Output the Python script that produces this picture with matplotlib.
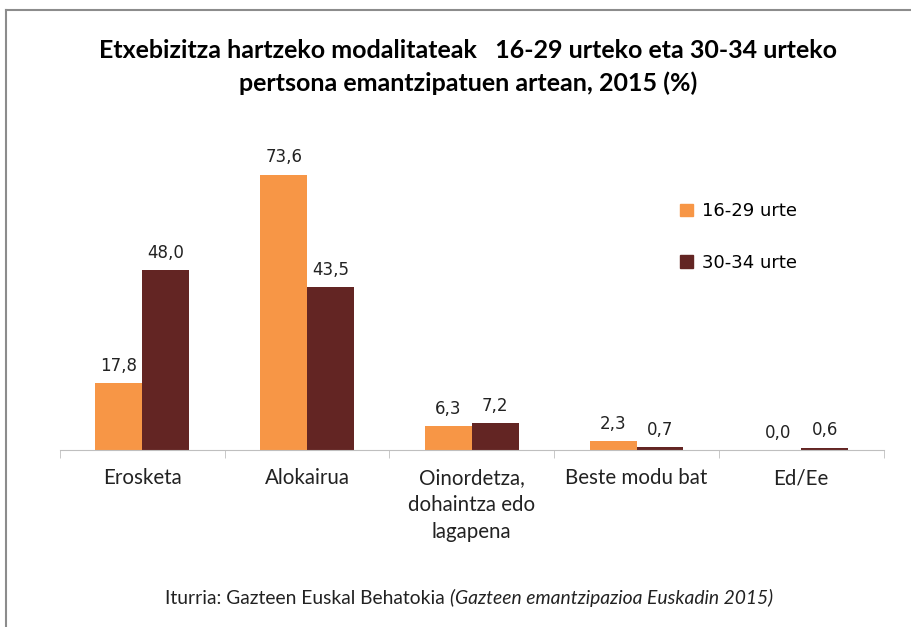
import matplotlib.pyplot as plt
import numpy as np
from matplotlib.lines import Line2D
from matplotlib.patches import Patch

# Datuak
kategoriak = ['Erosketa', 'Alokairua', 'Oinordetza,\ndohaintza edo\nlagapena',
              'Beste modu bat', 'Ed/Ee']
urte_16_29 = [17.8, 73.6, 6.3, 2.3, 0.0]
urte_30_34 = [48.0, 43.5, 7.2, 0.7, 0.6]
serieak = ['16-29 urte', '30-34 urte']

laranja = '#F79646'
granatea = '#632523'
narrow = ['Lato', 'DejaVu Sans']

fig = plt.figure(figsize=(9.11, 6.27), dpi=100)
ax = fig.add_axes([0.0659, 0.2823, 0.904, 0.4772])

x = np.arange(len(kategoriak))
w = 0.285
b1 = ax.bar(x - w / 2, urte_16_29, w, color=laranja)
b2 = ax.bar(x + w / 2, urte_30_34, w, color=granatea)

for bars, vals in [(b1, urte_16_29), (b2, urte_30_34)]:
    for bar, v in zip(bars, vals):
        ax.annotate(f'{v:.1f}'.replace('.', ','),
                    (bar.get_x() + bar.get_width() / 2, bar.get_height()),
                    xytext=(0, 6), textcoords='offset points',
                    ha='center', va='bottom', fontsize=12, color='#222222')

ax.set_xlim(-0.5, len(kategoriak) - 0.5)
ax.set_ylim(0, 80)
for s in ['top', 'right', 'left']:
    ax.spines[s].set_visible(False)
ax.spines['bottom'].set_color('#bfbfbf')
ax.set_yticks([])
ax.set_xticks(x)
ax.set_xticklabels(kategoriak, fontsize=14.8, family=narrow, linespacing=1.45,
                   color='#222222', va='top')
ax.tick_params(axis='x', which='major', length=0, pad=13)
ax.set_xticks(np.arange(-0.5, len(kategoriak)), minor=True)
ax.tick_params(axis='x', which='minor', length=6, color='#bfbfbf')

handles = [Patch(color=laranja), Patch(color=granatea)]
fig.legend(handles, serieak, loc='upper left', bbox_to_anchor=(0.729, 0.703),
           frameon=False, fontsize=13, handlelength=0.7, handleheight=0.7,
           handletextpad=0.5, labelspacing=1.85)

fig.text(0.514, 0.92, 'Etxebizitza hartzeko modalitateak   16-29 urteko eta 30-34 urteko',
         ha='center', va='center', fontsize=18, fontweight='bold', family=narrow)
fig.text(0.514, 0.867, 'pertsona emantzipatuen artean, 2015 (%)',
         ha='center', va='center', fontsize=18, fontweight='bold', family=narrow)

t = fig.text(0.181, 0.046, 'Iturria: Gazteen Euskal Behatokia ', ha='left', va='center',
             fontsize=13.9, family=narrow, color='#222222')
fig.canvas.draw()
bb = t.get_window_extent().transformed(fig.transFigure.inverted())
fig.text(bb.x1, 0.046, '(Gazteen emantzipazioa Euskadin 2015)', ha='left', va='center',
         fontsize=13.9, family=narrow, style='italic', color='#222222')

# Markoa
fig.add_artist(Line2D([0.0066, 1.0], [0.984, 0.984], color='#8c8c8c', lw=1.5))
fig.add_artist(Line2D([0.0066, 0.0066], [0.0, 0.984], color='#8c8c8c', lw=1.5))

fig.savefig('out.png', dpi=100)
